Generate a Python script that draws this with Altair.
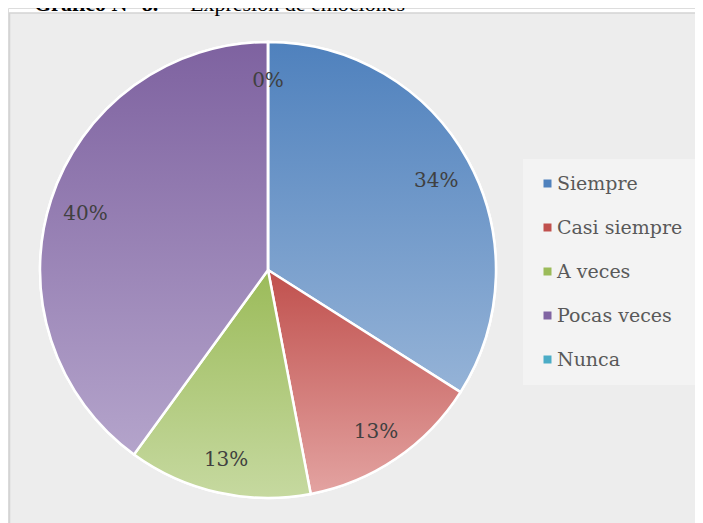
import altair as alt
import pandas as pd

categories = ["Siempre", "Casi siempre", "A veces", "Pocas veces", "Nunca"]
values = [34, 13, 13, 40, 0]
base_colors = ["#4F81BD", "#C0504D", "#9BBB59", "#8064A2", "#4BACC6"]
top_colors = ["#4F81BD", "#C0504D", "#9BBB59", "#7E62A0", "#4BACC6"]
bottom_colors = ["#95B3D7", "#E3A3A1", "#C6D9A0", "#B4A4CB", "#93CDDD"]
title_bold = "Gráfico N° 8.-"
title_rest = "Expresión de emociones"

df = pd.DataFrame({"cat": categories, "value": values, "order": list(range(len(categories)))})

CX, CY, R = 260, 262, 228
FONT = "DejaVu Serif"

base = alt.Chart(df).transform_joinaggregate(
    total="sum(value)"
).transform_window(
    cum="sum(value)", sort=[alt.SortField("order")], frame=[None, 0]
).transform_calculate(
    start="(datum.cum - datum.value) / datum.total * 2 * PI",
    end="datum.cum / datum.total * 2 * PI",
    mid="(2 * datum.cum - datum.value) / datum.total * PI",
    label="datum.value + '%'",
)

bg = alt.Chart(pd.DataFrame({"a": [0]})).mark_rect(
    fill="#EDEDED", stroke="#D4D4D4", strokeWidth=1.5
).encode(
    x=alt.value(1.5), x2=alt.value(760), y=alt.value(5), y2=alt.value(560)
)

arcs = base.mark_arc(radius=R, stroke="white", strokeWidth=2.5).encode(
    theta=alt.Theta("start:Q", scale=None),
    theta2="end:Q",
    x=alt.value(CX),
    y=alt.value(CY),
    color=alt.Color(
        "cat:N",
        scale=alt.Scale(domain=categories, range=base_colors),
        sort=categories,
        legend=alt.Legend(
            title=None,
            orient="none",
            legendX=515,
            legendY=151,
            symbolType="square",
            symbolSize=64,
            symbolStrokeWidth=0,
            labelFont=FONT,
            labelFontSize=19,
            labelColor="#595959",
            labelOffset=0,
            rowPadding=24,
            padding=15,
            fillColor="rgba(255,255,255,0.35)",
        ),
    ),
)

grad_layers = []
for c, t, b in zip(categories, top_colors, bottom_colors):
    grad = {
        "gradient": "linear",
        "x1": 0, "y1": 0, "x2": 0, "y2": 1,
        "stops": [{"offset": 0, "color": t}, {"offset": 1, "color": b}],
    }
    grad_layers.append(
        base.transform_filter(alt.datum.cat == c).mark_arc(
            radius=R, fill=grad, stroke="white", strokeWidth=2.5
        ).encode(
            theta=alt.Theta("start:Q", scale=None),
            theta2="end:Q",
            x=alt.value(CX),
            y=alt.value(CY),
        )
    )

labels = base.mark_text(
    radius=192, dy=3, font=FONT, fontSize=20, color="#404040"
).encode(
    theta=alt.Theta("mid:Q", scale=None),
    x=alt.value(CX),
    y=alt.value(CY),
    text="label:N",
)

tb = alt.Chart(pd.DataFrame({"t": [title_bold]})).mark_text(
    font="Liberation Serif", fontSize=22, fontWeight="bold", align="left",
    baseline="alphabetic", color="#000000"
).encode(x=alt.value(26), y=alt.value(3), text="t:N")

tr = alt.Chart(pd.DataFrame({"t": [title_rest]})).mark_text(
    font="Liberation Serif", fontSize=22, align="left",
    baseline="alphabetic", color="#000000"
).encode(x=alt.value(182), y=alt.value(3), text="t:N")

chart = alt.layer(bg, arcs, *grad_layers, labels, tb, tr).properties(
    width=687,
    height=515,
    autosize=alt.AutoSizeParams(type="none"),
    padding=0,
).configure_view(stroke=None).configure(background="white")

chart.save("out.html", embed_options={"renderer": "svg", "actions": False})
